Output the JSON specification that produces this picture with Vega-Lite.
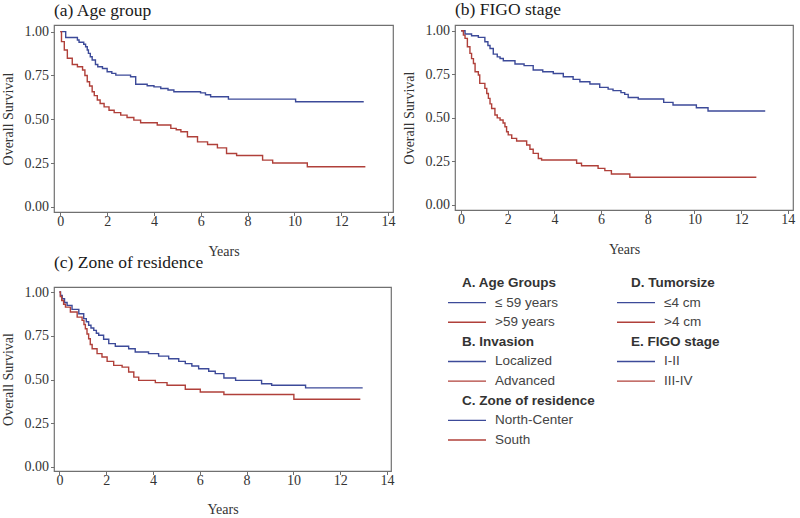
{
"$schema": "https://vega.github.io/schema/vega-lite/v6.json",
"padding": {"left": 0, "top": 0, "right": 0, "bottom": 0},
"background": "white",
"config": {
  "view": {"stroke": "#707070", "strokeWidth": 1.2},
  "axis": {"domain": false, "grid": false, "labelFont": "Liberation Serif", "labelFontSize": 14, "labelColor": "#333333", "titleFont": "Liberation Serif", "titleFontSize": 14, "titleFontWeight": "normal", "titleColor": "#333333", "tickColor": "#707070", "tickSize": 3.5},
  "axisX": {"labelPadding": -1, "titlePadding": 16},
  "axisY": {"labelPadding": 2, "titlePadding": 9},
  "title": {"font": "Liberation Serif", "fontSize": 17.5, "fontWeight": "normal", "anchor": "start", "frame": "group", "color": "#1a1a1a"}
},
"datasets": {
"km": [
{"panel":"a","stratum":1,"t":0,"s":1},{"panel":"a","stratum":1,"t":0.23,"s":0.967},{"panel":"a","stratum":1,"t":0.73,"s":0.952},{"panel":"a","stratum":1,"t":0.8,"s":0.94},{"panel":"a","stratum":1,"t":1.0,"s":0.928},{"panel":"a","stratum":1,"t":1.08,"s":0.914},{"panel":"a","stratum":1,"t":1.15,"s":0.895},{"panel":"a","stratum":1,"t":1.2,"s":0.876},{"panel":"a","stratum":1,"t":1.28,"s":0.857},{"panel":"a","stratum":1,"t":1.36,"s":0.838},{"panel":"a","stratum":1,"t":1.5,"s":0.813},{"panel":"a","stratum":1,"t":1.6,"s":0.8},{"panel":"a","stratum":1,"t":1.8,"s":0.79},{"panel":"a","stratum":1,"t":2.0,"s":0.771},{"panel":"a","stratum":1,"t":2.2,"s":0.762},{"panel":"a","stratum":1,"t":2.37,"s":0.752},{"panel":"a","stratum":1,"t":3.0,"s":0.743},{"panel":"a","stratum":1,"t":3.22,"s":0.7},{"panel":"a","stratum":1,"t":3.71,"s":0.691},{"panel":"a","stratum":1,"t":4.0,"s":0.685},{"panel":"a","stratum":1,"t":4.29,"s":0.676},{"panel":"a","stratum":1,"t":4.6,"s":0.667},{"panel":"a","stratum":1,"t":4.85,"s":0.657},{"panel":"a","stratum":1,"t":5.99,"s":0.651},{"panel":"a","stratum":1,"t":6.2,"s":0.64},{"panel":"a","stratum":1,"t":6.42,"s":0.629},{"panel":"a","stratum":1,"t":7.18,"s":0.615},{"panel":"a","stratum":1,"t":10.05,"s":0.6},{"panel":"a","stratum":1,"t":12.96,"s":0.6},
{"panel":"a","stratum":2,"t":0,"s":1},{"panel":"a","stratum":2,"t":0.05,"s":0.943},{"panel":"a","stratum":2,"t":0.17,"s":0.895},{"panel":"a","stratum":2,"t":0.3,"s":0.848},{"panel":"a","stratum":2,"t":0.51,"s":0.813},{"panel":"a","stratum":2,"t":0.73,"s":0.8},{"panel":"a","stratum":2,"t":0.95,"s":0.781},{"panel":"a","stratum":2,"t":1.05,"s":0.75},{"panel":"a","stratum":2,"t":1.15,"s":0.714},{"panel":"a","stratum":2,"t":1.25,"s":0.69},{"panel":"a","stratum":2,"t":1.36,"s":0.657},{"panel":"a","stratum":2,"t":1.45,"s":0.635},{"panel":"a","stratum":2,"t":1.58,"s":0.61},{"panel":"a","stratum":2,"t":1.7,"s":0.59},{"panel":"a","stratum":2,"t":1.87,"s":0.571},{"panel":"a","stratum":2,"t":2.08,"s":0.552},{"panel":"a","stratum":2,"t":2.3,"s":0.538},{"panel":"a","stratum":2,"t":2.58,"s":0.524},{"panel":"a","stratum":2,"t":2.85,"s":0.51},{"panel":"a","stratum":2,"t":3.14,"s":0.495},{"panel":"a","stratum":2,"t":3.43,"s":0.48},{"panel":"a","stratum":2,"t":4.14,"s":0.467},{"panel":"a","stratum":2,"t":4.72,"s":0.448},{"panel":"a","stratum":2,"t":4.95,"s":0.44},{"panel":"a","stratum":2,"t":5.15,"s":0.429},{"panel":"a","stratum":2,"t":5.43,"s":0.4},{"panel":"a","stratum":2,"t":5.86,"s":0.371},{"panel":"a","stratum":2,"t":6.29,"s":0.356},{"panel":"a","stratum":2,"t":6.71,"s":0.337},{"panel":"a","stratum":2,"t":7.1,"s":0.305},{"panel":"a","stratum":2,"t":7.53,"s":0.293},{"panel":"a","stratum":2,"t":8.64,"s":0.267},{"panel":"a","stratum":2,"t":9.07,"s":0.251},{"panel":"a","stratum":2,"t":10.55,"s":0.229},{"panel":"a","stratum":2,"t":13.03,"s":0.229},
{"panel":"b","stratum":1,"t":0,"s":1},{"panel":"b","stratum":1,"t":0.17,"s":0.981},{"panel":"b","stratum":1,"t":0.45,"s":0.971},{"panel":"b","stratum":1,"t":0.74,"s":0.962},{"panel":"b","stratum":1,"t":1.02,"s":0.937},{"panel":"b","stratum":1,"t":1.15,"s":0.915},{"panel":"b","stratum":1,"t":1.24,"s":0.898},{"panel":"b","stratum":1,"t":1.38,"s":0.866},{"panel":"b","stratum":1,"t":1.55,"s":0.85},{"panel":"b","stratum":1,"t":1.67,"s":0.841},{"panel":"b","stratum":1,"t":1.81,"s":0.828},{"panel":"b","stratum":1,"t":2.31,"s":0.809},{"panel":"b","stratum":1,"t":2.7,"s":0.8},{"panel":"b","stratum":1,"t":3.09,"s":0.775},{"panel":"b","stratum":1,"t":3.5,"s":0.765},{"panel":"b","stratum":1,"t":3.95,"s":0.755},{"panel":"b","stratum":1,"t":4.38,"s":0.736},{"panel":"b","stratum":1,"t":4.8,"s":0.721},{"panel":"b","stratum":1,"t":5.09,"s":0.707},{"panel":"b","stratum":1,"t":5.52,"s":0.694},{"panel":"b","stratum":1,"t":5.94,"s":0.675},{"panel":"b","stratum":1,"t":6.3,"s":0.665},{"panel":"b","stratum":1,"t":6.51,"s":0.656},{"panel":"b","stratum":1,"t":6.85,"s":0.645},{"panel":"b","stratum":1,"t":7.01,"s":0.635},{"panel":"b","stratum":1,"t":7.16,"s":0.617},{"panel":"b","stratum":1,"t":7.59,"s":0.608},{"panel":"b","stratum":1,"t":8.68,"s":0.589},{"panel":"b","stratum":1,"t":9.08,"s":0.574},{"panel":"b","stratum":1,"t":10.08,"s":0.558},{"panel":"b","stratum":1,"t":10.58,"s":0.539},{"panel":"b","stratum":1,"t":13.03,"s":0.539},
{"panel":"b","stratum":2,"t":0,"s":1},{"panel":"b","stratum":2,"t":0.1,"s":0.975},{"panel":"b","stratum":2,"t":0.17,"s":0.956},{"panel":"b","stratum":2,"t":0.27,"s":0.908},{"panel":"b","stratum":2,"t":0.38,"s":0.87},{"panel":"b","stratum":2,"t":0.45,"s":0.84},{"panel":"b","stratum":2,"t":0.53,"s":0.812},{"panel":"b","stratum":2,"t":0.6,"s":0.765},{"panel":"b","stratum":2,"t":0.74,"s":0.746},{"panel":"b","stratum":2,"t":0.8,"s":0.698},{"panel":"b","stratum":2,"t":1.02,"s":0.669},{"panel":"b","stratum":2,"t":1.1,"s":0.64},{"panel":"b","stratum":2,"t":1.17,"s":0.612},{"panel":"b","stratum":2,"t":1.24,"s":0.58},{"panel":"b","stratum":2,"t":1.31,"s":0.554},{"panel":"b","stratum":2,"t":1.45,"s":0.516},{"panel":"b","stratum":2,"t":1.55,"s":0.5},{"panel":"b","stratum":2,"t":1.67,"s":0.488},{"panel":"b","stratum":2,"t":1.8,"s":0.47},{"panel":"b","stratum":2,"t":1.88,"s":0.449},{"panel":"b","stratum":2,"t":1.95,"s":0.42},{"panel":"b","stratum":2,"t":2.02,"s":0.402},{"panel":"b","stratum":2,"t":2.17,"s":0.382},{"panel":"b","stratum":2,"t":2.38,"s":0.367},{"panel":"b","stratum":2,"t":2.81,"s":0.344},{"panel":"b","stratum":2,"t":2.95,"s":0.32},{"panel":"b","stratum":2,"t":3.09,"s":0.296},{"panel":"b","stratum":2,"t":3.31,"s":0.267},{"panel":"b","stratum":2,"t":3.45,"s":0.258},{"panel":"b","stratum":2,"t":4.95,"s":0.239},{"panel":"b","stratum":2,"t":5.16,"s":0.225},{"panel":"b","stratum":2,"t":5.87,"s":0.21},{"panel":"b","stratum":2,"t":6.16,"s":0.197},{"panel":"b","stratum":2,"t":6.44,"s":0.178},{"panel":"b","stratum":2,"t":7.23,"s":0.159},{"panel":"b","stratum":2,"t":12.65,"s":0.159},
{"panel":"c","stratum":1,"t":0,"s":1},{"panel":"c","stratum":1,"t":0.05,"s":0.98},{"panel":"c","stratum":1,"t":0.12,"s":0.962},{"panel":"c","stratum":1,"t":0.22,"s":0.94},{"panel":"c","stratum":1,"t":0.33,"s":0.924},{"panel":"c","stratum":1,"t":0.54,"s":0.901},{"panel":"c","stratum":1,"t":0.83,"s":0.876},{"panel":"c","stratum":1,"t":1.04,"s":0.848},{"panel":"c","stratum":1,"t":1.15,"s":0.83},{"panel":"c","stratum":1,"t":1.25,"s":0.81},{"panel":"c","stratum":1,"t":1.35,"s":0.795},{"panel":"c","stratum":1,"t":1.47,"s":0.781},{"panel":"c","stratum":1,"t":1.58,"s":0.765},{"panel":"c","stratum":1,"t":1.68,"s":0.753},{"panel":"c","stratum":1,"t":1.89,"s":0.73},{"panel":"c","stratum":1,"t":2.11,"s":0.705},{"panel":"c","stratum":1,"t":2.39,"s":0.69},{"panel":"c","stratum":1,"t":2.96,"s":0.676},{"panel":"c","stratum":1,"t":3.24,"s":0.657},{"panel":"c","stratum":1,"t":3.81,"s":0.648},{"panel":"c","stratum":1,"t":4.24,"s":0.634},{"panel":"c","stratum":1,"t":4.67,"s":0.619},{"panel":"c","stratum":1,"t":5.1,"s":0.604},{"panel":"c","stratum":1,"t":5.38,"s":0.591},{"panel":"c","stratum":1,"t":5.66,"s":0.577},{"panel":"c","stratum":1,"t":5.95,"s":0.562},{"panel":"c","stratum":1,"t":6.38,"s":0.547},{"panel":"c","stratum":1,"t":6.66,"s":0.534},{"panel":"c","stratum":1,"t":7.03,"s":0.509},{"panel":"c","stratum":1,"t":7.53,"s":0.495},{"panel":"c","stratum":1,"t":8.64,"s":0.476},{"panel":"c","stratum":1,"t":9.07,"s":0.467},{"panel":"c","stratum":1,"t":10.52,"s":0.452},{"panel":"c","stratum":1,"t":12.96,"s":0.452},
{"panel":"c","stratum":2,"t":0,"s":1},{"panel":"c","stratum":2,"t":0.04,"s":0.975},{"panel":"c","stratum":2,"t":0.1,"s":0.952},{"panel":"c","stratum":2,"t":0.18,"s":0.93},{"panel":"c","stratum":2,"t":0.26,"s":0.914},{"panel":"c","stratum":2,"t":0.47,"s":0.886},{"panel":"c","stratum":2,"t":0.76,"s":0.857},{"panel":"c","stratum":2,"t":0.97,"s":0.838},{"panel":"c","stratum":2,"t":1.05,"s":0.815},{"panel":"c","stratum":2,"t":1.11,"s":0.79},{"panel":"c","stratum":2,"t":1.18,"s":0.76},{"panel":"c","stratum":2,"t":1.25,"s":0.733},{"panel":"c","stratum":2,"t":1.32,"s":0.7},{"panel":"c","stratum":2,"t":1.4,"s":0.676},{"panel":"c","stratum":2,"t":1.61,"s":0.648},{"panel":"c","stratum":2,"t":1.82,"s":0.629},{"panel":"c","stratum":2,"t":2.04,"s":0.604},{"panel":"c","stratum":2,"t":2.32,"s":0.581},{"panel":"c","stratum":2,"t":2.68,"s":0.571},{"panel":"c","stratum":2,"t":2.96,"s":0.543},{"panel":"c","stratum":2,"t":3.18,"s":0.514},{"panel":"c","stratum":2,"t":3.39,"s":0.495},{"panel":"c","stratum":2,"t":4.1,"s":0.482},{"panel":"c","stratum":2,"t":4.6,"s":0.467},{"panel":"c","stratum":2,"t":5.38,"s":0.444},{"panel":"c","stratum":2,"t":6.02,"s":0.429},{"panel":"c","stratum":2,"t":7.03,"s":0.414},{"panel":"c","stratum":2,"t":10.02,"s":0.387},{"panel":"c","stratum":2,"t":12.86,"s":0.387}
],
"key": [
{"col":"1","slot":0,"kind":"header","label":"A. Age Groups"},
{"col":"1","slot":1,"kind":"item","stratum":1,"label":"≤ 59 years"},
{"col":"1","slot":2,"kind":"item","stratum":2,"label":">59 years"},
{"col":"1","slot":3,"kind":"header","label":"B. Invasion"},
{"col":"1","slot":4,"kind":"item","stratum":1,"label":"Localized"},
{"col":"1","slot":5,"kind":"item","stratum":2,"label":"Advanced"},
{"col":"1","slot":6,"kind":"header","label":"C. Zone of residence"},
{"col":"1","slot":7,"kind":"item","stratum":1,"label":"North-Center"},
{"col":"1","slot":8,"kind":"item","stratum":2,"label":"South"},
{"col":"2","slot":0,"kind":"header","label":"D. Tumorsize"},
{"col":"2","slot":1,"kind":"item","stratum":1,"label":"≤4 cm"},
{"col":"2","slot":2,"kind":"item","stratum":2,"label":">4 cm"},
{"col":"2","slot":3,"kind":"header","label":"E. FIGO stage"},
{"col":"2","slot":4,"kind":"item","stratum":1,"label":"I-II"},
{"col":"2","slot":5,"kind":"item","stratum":2,"label":"III-IV"}
]
},
"spacing": -8,
"vconcat": [
{
"spacing": 5,
"hconcat": [
{
"title": {"text": "(a) Age group", "offset": 5},
"width": 339, "height": 187,
"data": {"name": "km"},
"transform": [{"filter": "datum.panel === 'a'"}],
"mark": {"type": "line", "interpolate": "step-after", "strokeWidth": 1.4, "clip": true},
"encoding": {
"x": {"field": "t", "type": "quantitative", "scale": {"domain": [-0.27, 14.21], "nice": false, "zero": false}, "axis": {"values": [0,2,4,6,8,10,12,14], "title": "Years"}},
"y": {"field": "s", "type": "quantitative", "scale": {"domain": [-0.029, 1.038], "nice": false, "zero": false}, "axis": {"values": [0,0.25,0.5,0.75,1], "format": ".2f", "title": "Overall Survival"}},
"color": {"field": "stratum", "type": "nominal", "scale": {"domain": [1,2], "range": ["#3C4A99", "#B0403A"]}, "legend": null}
}
},
{
"title": {"text": "(b) FIGO stage", "offset": 5},
"width": 338, "height": 185,
"data": {"name": "km"},
"transform": [{"filter": "datum.panel === 'b'"}],
"mark": {"type": "line", "interpolate": "step-after", "strokeWidth": 1.4, "clip": true},
"encoding": {
"x": {"field": "t", "type": "quantitative", "scale": {"domain": [-0.26, 14.22], "nice": false, "zero": false}, "axis": {"values": [0,2,4,6,8,10,12,14], "title": "Years"}},
"y": {"field": "s", "type": "quantitative", "scale": {"domain": [-0.029, 1.033], "nice": false, "zero": false}, "axis": {"values": [0,0.25,0.5,0.75,1], "format": ".2f", "title": "Overall Survival"}},
"color": {"field": "stratum", "type": "nominal", "scale": {"domain": [1,2], "range": ["#3C4A99", "#B0403A"]}, "legend": null}
}
}
]
},
{
"spacing": 52,
"hconcat": [
{
"title": {"text": "(c) Zone of residence", "offset": 14},
"width": 337, "height": 184,
"data": {"name": "km"},
"transform": [{"filter": "datum.panel === 'c'"}],
"mark": {"type": "line", "interpolate": "step-after", "strokeWidth": 1.4, "clip": true},
"encoding": {
"x": {"field": "t", "type": "quantitative", "scale": {"domain": [-0.23, 14.17], "nice": false, "zero": false}, "axis": {"values": [0,2,4,6,8,10,12,14], "title": "Years", "titlePadding": 15}},
"y": {"field": "s", "type": "quantitative", "scale": {"domain": [-0.023, 1.029], "nice": false, "zero": false}, "axis": {"values": [0,0.25,0.5,0.75,1], "format": ".2f", "title": "Overall Survival"}},
"color": {"field": "stratum", "type": "nominal", "scale": {"domain": [1,2], "range": ["#3C4A99", "#B0403A"]}, "legend": null}
}
},
{
"width": 169, "height": 153,
"view": {"stroke": null},
"data": {"name": "key"},
"encoding": {
"x": {"field": "col", "type": "nominal", "scale": {"type": "point", "domain": ["1","2"], "padding": 0}, "axis": null},
"y": {"field": "slot", "type": "quantitative", "scale": {"domain": [0.204, 8], "reverse": true, "nice": false, "zero": false}, "axis": null}
},
"layer": [
{"transform": [{"filter": "datum.kind === 'header'"}], "mark": {"type": "text", "align": "left", "baseline": "middle", "dx": 14, "font": "Liberation Sans", "fontSize": 13.5, "fontWeight": "bold", "color": "#333333"}, "encoding": {"text": {"field": "label"}}},
{"transform": [{"filter": "datum.kind === 'item'"}], "mark": {"type": "rule", "x2Offset": 38, "strokeWidth": 1.4}, "encoding": {"x2": {"field": "col"}, "color": {"field": "stratum", "type": "nominal", "scale": {"domain": [1,2], "range": ["#3C4A99", "#B0403A"]}, "legend": null}}},
{"transform": [{"filter": "datum.kind === 'item'"}], "mark": {"type": "text", "align": "left", "baseline": "middle", "dx": 47, "font": "Liberation Sans", "fontSize": 13.5, "color": "#444444"}, "encoding": {"text": {"field": "label"}}}
]
}
]
}
]
}
